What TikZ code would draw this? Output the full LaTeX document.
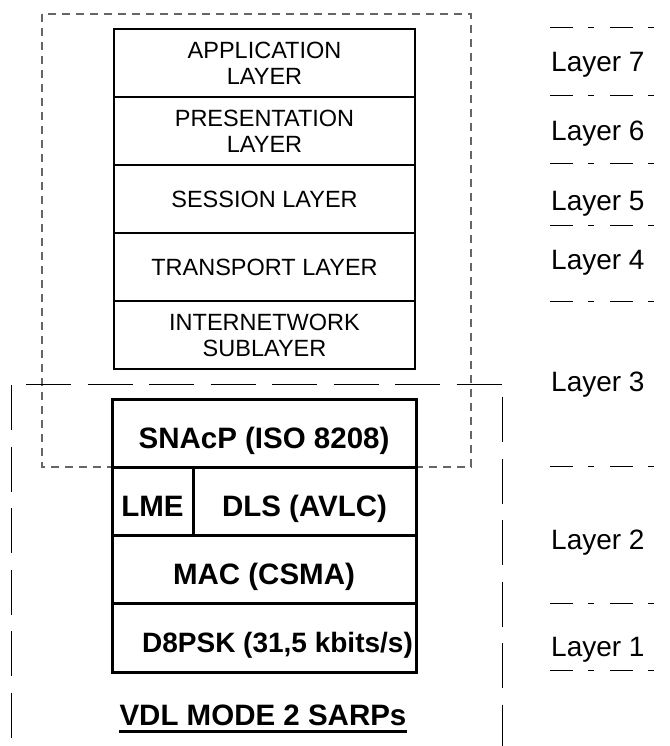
\documentclass[tikz,border=0pt]{standalone}
\usepackage{fontspec}
\setmainfont{Liberation Sans}
\usetikzlibrary{positioning}

\tikzset{
    osibox/.style={draw, line width=1.3pt, minimum width=301pt, minimum height=68pt,
        inner sep=0pt, outer sep=0pt, align=center,
        font=\fontsize{23.5}{26}\selectfont},
    vdlbox/.style={draw, line width=3pt, minimum height=68pt, inner sep=0pt, outer sep=0pt,
        text height=30pt, text depth=0pt,
        font=\bfseries\fontsize{29.5}{31}\selectfont},
    layertxt/.style={anchor=base west, inner sep=0pt,
        font=\fontsize{28}{30}\selectfont},
    layersep/.style={line width=1pt, dash pattern=on 23pt off 15pt on 6pt off 16pt},
    longdash/.style={line width=1pt, dash pattern=on 45pt off 16.5pt},
    osiframe/.style={line width=1.3pt, color=black!60, dash pattern=on 8pt off 6pt}
}

\begin{document}
\begin{tikzpicture}[x=1pt, y=-1pt]

    % =================================================================
    % 1. KHUNG ANH
    % =================================================================
    \useasboundingbox (0,0) rectangle (669,746);

    % =================================================================
    % 2. KHUNG NET DUT (OSI / VDL)
    % =================================================================
    \draw[osiframe] (42,14) rectangle (471,467);

    % Duong ranh gioi lop 3 va hai canh doc cua SARPs
    \draw[longdash] (26,384) -- (503,384);
    \draw[longdash] (11,385) -- (11,746);
    \draw[longdash] (502,397) -- (502,746);

    % =================================================================
    % 3. CAC LOP OSI PHIA TREN
    % =================================================================
    \node[osibox] (app)   at (264.5,63)  {APPLICATION\\LAYER};
    \node[osibox] (pres)  at (264.5,131) {PRESENTATION\\LAYER};
    \node[osibox] (sess)  at (264.5,199) {SESSION LAYER};
    \node[osibox] (trans) at (264.5,267) {TRANSPORT LAYER};
    \node[osibox] (inet)  at (264.5,335) {INTERNETWORK\\SUBLAYER};

    % =================================================================
    % 4. CAC LOP VDL MODE 2
    % =================================================================
    \node[vdlbox, minimum width=304pt] (snacp) at (264,433)   {SNAcP (ISO 8208)};
    \node[vdlbox, minimum width=81pt]  (lme)   at (152.5,501) {LME};
    \node[vdlbox, minimum width=223pt] (dls)   at (304.5,501) {DLS (AVLC)};
    \node[vdlbox, minimum width=304pt] (mac)   at (264,569)   {MAC (CSMA)};
    \node[vdlbox, minimum width=304pt, minimum height=69pt,
          font=\bfseries\fontsize{28}{30}\selectfont] (phy) at (264,637.5)
          {\hspace*{27pt}D8PSK (31,5 kbits/s)};

    % Tieu de gach chan
    \node[anchor=base, inner sep=0pt, font=\bfseries\fontsize{29.5}{31}\selectfont]
          (sarps) at (263,725) {VDL MODE 2 SARPs};
    \draw[line width=2.5pt] ([yshift=-6.5pt]sarps.base west) -- ([yshift=-6.5pt]sarps.base east);

    % =================================================================
    % 5. NHAN CAC LOP BEN PHAI
    % =================================================================
    \foreach \y in {28, 96, 164, 225, 301, 466, 603, 670} {
        \draw[layersep] (550,\y) -- (657,\y);
    }

    \node[layertxt] (L7) at (551,72)  {Layer 7};
    \node[layertxt] (L6) at (551,141) {Layer 6};
    \node[layertxt] (L5) at (551,210) {Layer 5};
    \node[layertxt] (L4) at (551,269) {Layer 4};
    \node[layertxt] (L3) at (551,391) {Layer 3};
    \node[layertxt] (L2) at (551,549) {Layer 2};
    \node[layertxt] (L1) at (551,656) {Layer 1};

\end{tikzpicture}
\end{document}
